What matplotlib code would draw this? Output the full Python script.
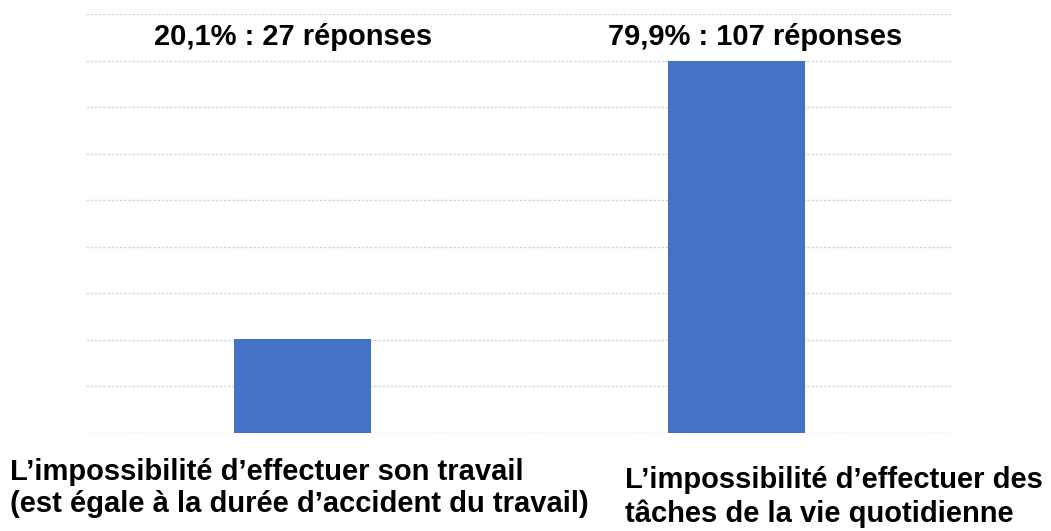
import numpy as np
import matplotlib.pyplot as plt

categories = ["L\u2019impossibilité d\u2019effectuer son travail\n(est égale à la durée d\u2019accident du travail)",
              "L\u2019impossibilité d\u2019effectuer des\ntâches de la vie quotidienne"]
percents = [20.1, 79.9]
counts = [27, 107]

plt.rcParams['font.family'] = ['Liberation Sans', 'DejaVu Sans']

fig = plt.figure(figsize=(10.51, 5.31), dpi=100)
ax = fig.add_axes([86/1051, (531-433)/531, (953-86)/1051, (433-14)/531])

x = np.arange(len(categories))
ax.bar(x, percents, width=0.315, color='#4472C4', zorder=3)

ax.set_xlim(-0.5, 1.5)
ax.set_ylim(0, 90)
ax.set_yticks(np.arange(0, 91, 10))
ax.yaxis.grid(True, color='#d9d9d9', linestyle=(0, (2, 1)), linewidth=1, zorder=0)
ax.set_xticks([])
ax.tick_params(left=False, labelleft=False)
for s in ax.spines.values():
    s.set_visible(False)

# labels above the chart
label_x = [-0.022, 1.043]
for xi, p, c in zip(label_x, percents, counts):
    txt = f"{p:.1f}".replace('.', ',') + f"% : {c} réponses"
    ax.text(xi, 85, txt, ha='center', va='center', fontsize=21,
            fontweight='bold')

# category names below
cat_x = [10/1051, 625/1051]
cat_y = [(531-488)/531, (531-497)/531]
for cx, cy, name in zip(cat_x, cat_y, categories):
    fig.text(cx, cy, name, ha='left', va='center', fontsize=21,
             fontweight='bold', linespacing=1.22)

fig.savefig('out.png', dpi=100)
